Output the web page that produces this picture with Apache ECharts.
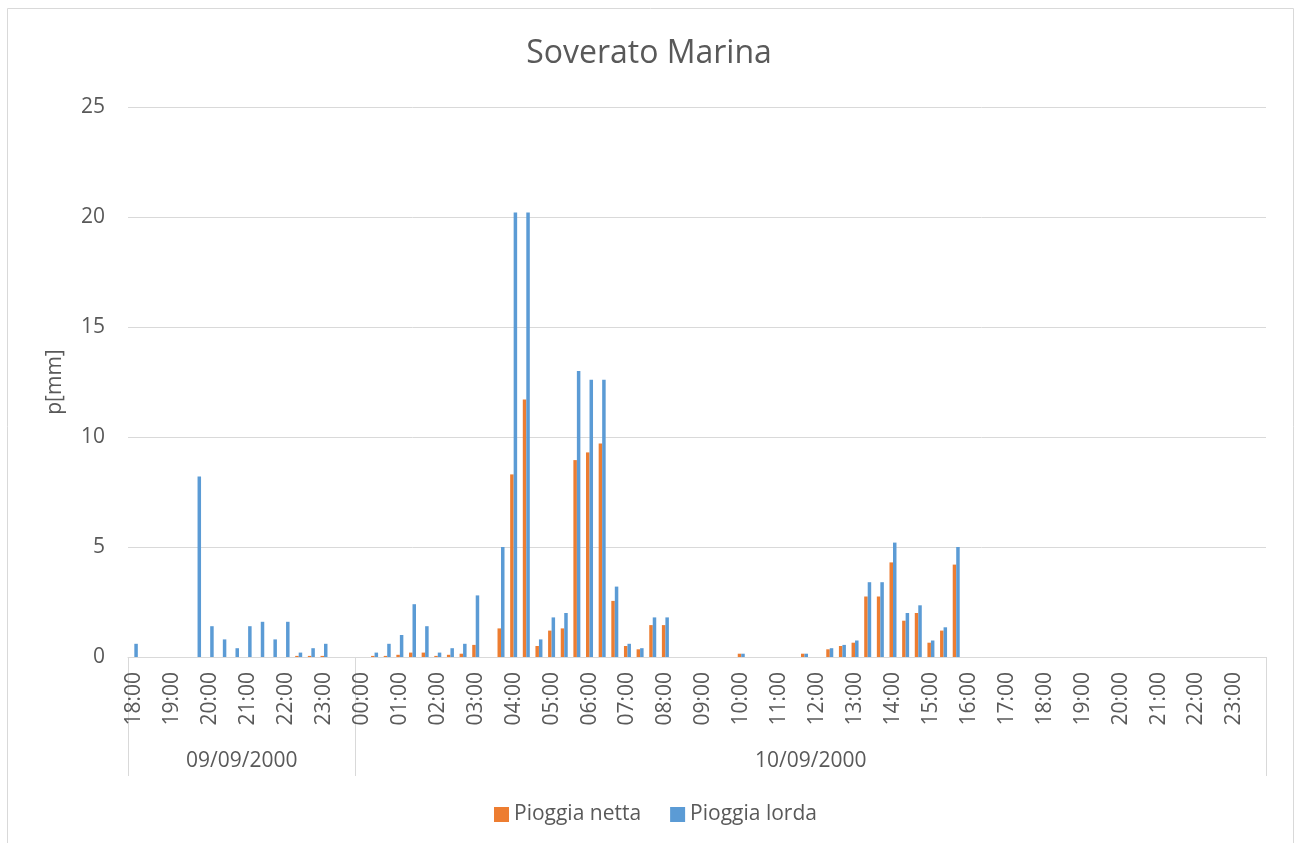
<!DOCTYPE html>
<html>
<head>
<meta charset="utf-8">
<title>Soverato Marina</title>
<script src="https://cdn.jsdelivr.net/npm/echarts@6/dist/echarts.min.js"></script>
<style>
  html, body { margin: 0; padding: 0; background: #fff; }
  #chart { width: 1298px; height: 843px; }
</style>
</head>
<body>
<div id="chart"></div>
<script>
// time slots (20 min steps), first level of the x axis
const day1Times = ['18:00','18:20','18:40','19:00','19:20','19:40','20:00','20:20','20:40',
  '21:00','21:20','21:40','22:00','22:20','22:40','23:00','23:20','23:40'];
const day2Times = ['00:00','00:20','00:40','01:00','01:20','01:40','02:00','02:20','02:40',
  '03:00','03:20','03:40','04:00','04:20','04:40','05:00','05:20','05:40',
  '06:00','06:20','06:40','07:00','07:20','07:40','08:00','08:20','08:40',
  '09:00','09:20','09:40','10:00','10:20','10:40','11:00','11:20','11:40',
  '12:00','12:20','12:40','13:00','13:20','13:40','14:00','14:20','14:40',
  '15:00','15:20','15:40','16:00','16:20','16:40','17:00','17:20','17:40',
  '18:00','18:20','18:40','19:00','19:20','19:40','20:00','20:20','20:40',
  '21:00','21:20','21:40','22:00','22:20','22:40','23:00','23:20','23:40'];
// second level of the x axis
const dates = ['09/09/2000', '10/09/2000'];

// Pioggia netta [mm]
const netta1 = [0, 0, 0, 0, 0, 0, 0, 0, 0, 0, 0, 0, 0, 0.05, 0.05, 0.05, 0, 0];
const netta2 = [0, 0.05, 0.05, 0.1, 0.2, 0.2, 0.05, 0.1, 0.15,
  0.55, 0, 1.3, 8.3, 11.7, 0.5, 1.2, 1.3, 8.95,
  9.3, 9.7, 2.55, 0.5, 0.35, 1.45, 1.45, 0, 0,
  0, 0, 0, 0.15, 0, 0, 0, 0, 0.15,
  0, 0.35, 0.5, 0.65, 2.75, 2.75, 4.3, 1.65, 2.0,
  0.65, 1.2, 4.2, 0, 0, 0, 0, 0, 0,
  0, 0, 0, 0, 0, 0, 0, 0, 0,
  0, 0, 0, 0, 0, 0, 0, 0, 0];
// Pioggia lorda [mm]
const lorda1 = [0.6, 0, 0, 0, 0, 8.2, 1.4, 0.8, 0.4, 1.4, 1.6, 0.8, 1.6, 0.2, 0.4, 0.6, 0, 0];
const lorda2 = [0, 0.2, 0.6, 1.0, 2.4, 1.4, 0.2, 0.4, 0.6,
  2.8, 0, 5.0, 20.2, 20.2, 0.8, 1.8, 2.0, 13.0,
  12.6, 12.6, 3.2, 0.6, 0.4, 1.8, 1.8, 0, 0,
  0, 0, 0, 0.15, 0, 0, 0, 0, 0.15,
  0, 0.4, 0.55, 0.75, 3.4, 3.4, 5.2, 2.0, 2.35,
  0.75, 1.35, 5.0, 0, 0, 0, 0, 0, 0,
  0, 0, 0, 0, 0, 0, 0, 0, 0,
  0, 0, 0, 0, 0, 0, 0, 0, 0];

const categories = day1Times.concat(day2Times);
const nCat = categories.length;
const n1 = day1Times.length;
const textColor = '#595959';
const lineColor = '#d9d9d9';
const font = 'Open Sans';

let chart = echarts.init(document.getElementById('chart'));
const option = {
  textStyle: { fontFamily: font },
  title: {
    text: 'Soverato Marina',
    left: 'center',
    top: 33,
    textStyle: { fontFamily: font, fontSize: 32, fontWeight: 'normal', color: textColor }
  },
  graphic: [{
    type: 'rect',
    z: -10,
    shape: { x: 7.5, y: 8.5, width: 1286, height: 860 },
    style: { fill: 'none', stroke: lineColor, lineWidth: 1 }
  }],
  legend: {
    data: ['Pioggia netta', 'Pioggia lorda'],
    left: 489,
    top: 799,
    icon: 'rect',
    itemWidth: 15,
    itemHeight: 15,
    itemGap: 29,
    textStyle: { fontFamily: font, fontSize: 21, color: textColor }
  },
  grid: { left: 128, right: 32, top: 107, bottom: 186 },
  xAxis: [{
    type: 'category',
    data: categories,
    axisLine: { lineStyle: { color: lineColor } },
    axisTick: { show: false },
    axisLabel: {
      interval: 2,
      rotate: 90,
      margin: 15,
      fontFamily: font,
      fontSize: 21,
      color: textColor
    }
  }, {
    // second level: dates
    type: 'value',
    position: 'bottom',
    min: 0,
    max: nCat,
    axisLine: { show: false },
    splitLine: { show: false },
    axisTick: {
      show: true,
      customValues: [0, n1, nCat],
      length: 119,
      lineStyle: { color: lineColor }
    },
    axisLabel: {
      customValues: [n1 / 2, n1 + (nCat - n1) / 2],
      formatter: function (v) { return v < n1 ? dates[0] : dates[1]; },
      margin: 94,
      fontFamily: font,
      fontSize: 21,
      color: textColor
    }
  }],
  yAxis: {
    type: 'value',
    min: 0,
    max: 25,
    interval: 5,
    name: 'p[mm]',
    nameLocation: 'middle',
    nameRotate: 90,
    nameGap: 62,
    nameTextStyle: { fontFamily: font, fontSize: 21, color: textColor },
    axisLine: { show: false },
    axisTick: { show: false },
    axisLabel: { margin: 23, fontFamily: font, fontSize: 21, color: textColor },
    splitLine: { lineStyle: { color: lineColor } }
  },
  series: [{
    name: 'Pioggia netta',
    type: 'bar',
    xAxisIndex: 0,
    data: netta1.concat(netta2),
    barWidth: 3.5,
    barGap: '0%',
    itemStyle: { color: '#ED7D31' }
  }, {
    name: 'Pioggia lorda',
    type: 'bar',
    xAxisIndex: 0,
    data: lorda1.concat(lorda2),
    barWidth: 3.5,
    barGap: '0%',
    itemStyle: { color: '#5B9BD5' }
  }]
};
chart.setOption(option);
window.onresize = function () {
  chart.resize();
};
</script>
</body>
</html>
